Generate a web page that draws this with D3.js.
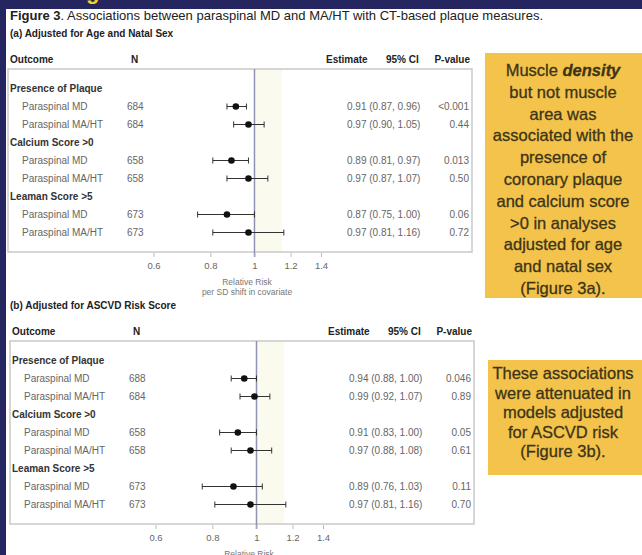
<!DOCTYPE html>
<html>
<head>
<meta charset="utf-8">
<script src="https://cdn.jsdelivr.net/npm/d3@7/dist/d3.min.js"></script>
<style>
  html, body { margin: 0; padding: 0; background: #252660; }
  svg { display: block; font-family: "Liberation Sans", Arial, sans-serif; }
</style>
</head>
<body>
<svg id="fig" width="642" height="555"></svg>
<script>
// ---- data ----
const groups = ["Presence of Plaque", "Calcium Score >0", "Leaman Score >5"];
const measures = ["Paraspinal MD", "Paraspinal MA/HT"];

const panelTitles = ["(a) Adjusted for Age and Natal Sex", "(b) Adjusted for ASCVD Risk Score"];

const nA    = [684, 684, 658, 658, 673, 673];
const estA  = [0.91, 0.97, 0.89, 0.97, 0.87, 0.97];
const lowA  = [0.87, 0.90, 0.81, 0.87, 0.75, 0.81];
const highA = [0.96, 1.05, 0.97, 1.07, 1.00, 1.16];
const pA    = ["<0.001", "0.44", "0.013", "0.50", "0.06", "0.72"];

const nB    = [688, 684, 658, 658, 673, 673];
const estB  = [0.94, 0.99, 0.91, 0.97, 0.89, 0.97];
const lowB  = [0.88, 0.92, 0.83, 0.88, 0.76, 0.81];
const highB = [1.00, 1.07, 1.00, 1.08, 1.03, 1.16];
const pB    = ["0.046", "0.89", "0.05", "0.61", "0.11", "0.70"];

const tickValues = [0.6, 0.8, 1, 1.2, 1.4];
const tickLabels = ["0.6", "0.8", "1", "1.2", "1.4"];

const note1 = [
  [["Muscle ", ""], ["density", "bi"]],
  [["but not muscle", ""]],
  [["area was", ""]],
  [["associated with the", ""]],
  [["presence of", ""]],
  [["coronary plaque", ""]],
  [["and  calcium score", ""]],
  [[">0 in analyses", ""]],
  [["adjusted for age", ""]],
  [["and natal sex", ""]],
  [["(Figure 3a).", ""]]
];
const note2 = ["These associations", "were attenuated in", "models adjusted", "for ASCVD risk", "(Figure 3b)."];

// ---- drawing ----
const svg = d3.select("#fig");
const W = 642, H = 555;

svg.append("rect").attr("width", W).attr("height", H).attr("fill", "#252660");
// heading of the slide sits above the figure; only its descender shows
svg.append("text").attr("x", 20).attr("y", -1)
  .attr("font-size", 22).attr("font-weight", "bold").attr("fill", "#f2d21b")
  .text("Findings");
svg.append("rect").attr("x", 6).attr("y", 9).attr("width", W - 6).attr("height", H - 9).attr("fill", "#ffffff");

// figure caption
const cap = svg.append("text").attr("x", 10).attr("y", 19.5).attr("font-size", 13).attr("fill", "#222");
cap.append("tspan").attr("font-weight", "bold").text("Figure 3");
cap.append("tspan").text(". Associations between paraspinal MD and MA/HT with CT-based plaque measures.");

function drawPanel(idx, n, est, low, high, pv) {
  const dy = idx * 272;
  const dx = idx * 2;
  const g = svg.append("g").attr("transform", `translate(${dx},${dy})`);

  const x = d3.scaleLog().domain([0.6, 1.4]).range([153.5, 321]);

  // row layout: group header followed by its two measures
  const rows = [];
  groups.forEach((grp, gi) => {
    rows.push({ id: "g" + gi, type: "group", label: grp });
    measures.forEach((m, mi) => {
      const k = gi * 2 + mi;
      rows.push({ id: "r" + k, type: "row", label: m, n: n[k], est: est[k], low: low[k], high: high[k], p: pv[k] });
    });
  });
  const y = d3.scalePoint().domain(rows.map(r => r.id)).range([88.5, 232.5]);

  g.append("text").attr("x", 10 - dx).attr("y", 37).attr("font-size", 10).attr("font-weight", "bold")
    .attr("fill", "#222").text(panelTitles[idx]);

  // column headers
  const hdr = g.append("g").attr("font-size", 10).attr("font-weight", "bold").attr("fill", "#222");
  hdr.append("text").attr("x", 10).attr("y", 63).text("Outcome");
  hdr.append("text").attr("x", 131).attr("y", 63).text("N");
  hdr.append("text").attr("x", 326).attr("y", 63).text("Estimate");
  hdr.append("text").attr("x", 386).attr("y", 63).text("95% CI");
  hdr.append("text").attr("x", 470).attr("y", 63).attr("text-anchor", "end").text("P-value");

  // faint band right of the null line
  g.append("rect").attr("x", x(1)).attr("y", 69).attr("width", x(1.15) - x(1)).attr("height", 183)
    .attr("fill", "#fafaee");

  // frame
  g.append("rect").attr("x", 8).attr("y", 69).attr("width", 464).attr("height", 183)
    .attr("fill", "none").attr("stroke", "#c9c9c9").attr("stroke-width", 1.5);

  // null line
  g.append("line").attr("x1", x(1)).attr("x2", x(1)).attr("y1", 69).attr("y2", 257)
    .attr("stroke", "#8f92b4").attr("stroke-width", 1.5);

  // axis
  const axis = d3.axisBottom(x).tickValues(tickValues).tickFormat((d, i) => tickLabels[i]).tickSize(4).tickPadding(5);
  const ax = g.append("g").attr("transform", "translate(0,253)").call(axis);
  ax.select(".domain").remove();
  ax.selectAll(".tick line").attr("stroke", "#bbb");
  ax.selectAll(".tick text").attr("fill", "#666").attr("font-size", 9.5)
    .attr("font-family", "Liberation Sans, Arial, sans-serif");

  const xt = g.append("text").attr("x", 247).attr("text-anchor", "middle").attr("font-size", 8.5).attr("fill", "#777");
  xt.append("tspan").attr("x", 247).attr("y", 285).text("Relative Risk");
  xt.append("tspan").attr("x", 247).attr("y", 295).text("per SD shift in covariate");

  // labels and intervals
  const f = d3.format(".2f");
  rows.forEach(r => {
    const yy = y(r.id);
    if (r.type === "group") {
      g.append("text").attr("x", 10).attr("y", yy + 3.5).attr("font-size", 10).attr("font-weight", "bold")
        .attr("fill", "#333").text(r.label);
    } else {
      g.append("text").attr("x", 22).attr("y", yy + 3.5).attr("font-size", 10).attr("fill", "#666").text(r.label);
      g.append("text").attr("x", 127).attr("y", yy + 3.5).attr("font-size", 10).attr("fill", "#666").text(r.n);
      g.append("text").attr("x", 347).attr("y", yy + 3.5).attr("font-size", 10).attr("fill", "#666")
        .text(`${f(r.est)} (${f(r.low)}, ${f(r.high)})`);
      g.append("text").attr("x", 469).attr("y", yy + 3.5).attr("text-anchor", "end").attr("font-size", 10)
        .attr("fill", "#666").text(r.p);

      g.append("line").attr("x1", x(r.low)).attr("x2", x(r.high)).attr("y1", yy).attr("y2", yy)
        .attr("stroke", "#333").attr("stroke-width", 1);
      [r.low, r.high].forEach(v => {
        g.append("line").attr("x1", x(v)).attr("x2", x(v)).attr("y1", yy - 3).attr("y2", yy + 3)
          .attr("stroke", "#333").attr("stroke-width", 1);
      });
      g.append("circle").attr("cx", x(r.est)).attr("cy", yy).attr("r", 3.3).attr("fill", "#111");
    }
  });
}

drawPanel(0, nA, estA, lowA, highA, pA);
drawPanel(1, nB, estB, lowB, highB, pB);

// annotation boxes
const cx = 563;
svg.append("rect").attr("x", 485).attr("y", 53).attr("width", W - 485).attr("height", 245).attr("fill", "#f4c34b");
note1.forEach((parts, i) => {
  const t = svg.append("text").attr("x", cx).attr("y", 76 + i * 21.8).attr("text-anchor", "middle")
    .attr("font-size", 16.5).attr("fill", "#3d3517").attr("stroke", "#3d3517").attr("stroke-width", 0.3);
  parts.forEach(([s, st]) => {
    const sp = t.append("tspan").text(s);
    if (st === "bi") sp.attr("font-weight", "bold").attr("font-style", "italic");
  });
});

svg.append("rect").attr("x", 488).attr("y", 360).attr("width", W - 488).attr("height", 115).attr("fill", "#f4c34b");
note2.forEach((s, i) => {
  svg.append("text").attr("x", cx).attr("y", 379 + i * 19.5).attr("text-anchor", "middle")
    .attr("font-size", 16.5).attr("fill", "#3d3517").attr("stroke", "#3d3517").attr("stroke-width", 0.3).text(s);
});
</script>
</body>
</html>
